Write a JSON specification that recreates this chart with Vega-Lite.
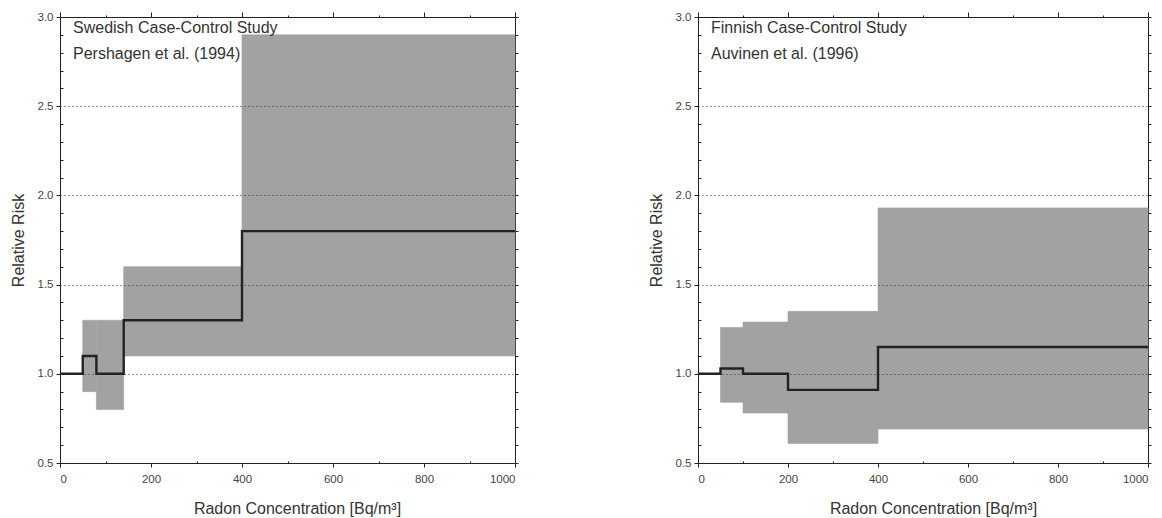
{
  "$schema": "https://vega.github.io/schema/vega-lite/v6.json",
  "background": "white",
  "padding": {"left": 10, "top": 11, "right": 5, "bottom": 2},
  "spacing": 183,
  "bounds": "flush",
  "config": {
    "view": {"stroke": null},
    "font": "Liberation Sans",
    "axis": {
      "labelFont": "Liberation Sans",
      "labelFontSize": 11.5,
      "labelColor": "#444",
      "titleFont": "Liberation Sans",
      "titleFontSize": 16,
      "titleFontWeight": "normal",
      "titleColor": "#333",
      "domainColor": "#222",
      "tickColor": "#222",
      "tickWidth": 1
    }
  },
  "datasets": {
    "bands": [
      {"study": "Swedish", "lo": 50, "hi": 80, "ci_lo": 0.9, "ci_hi": 1.3},
      {"study": "Swedish", "lo": 80, "hi": 140, "ci_lo": 0.8, "ci_hi": 1.3},
      {"study": "Swedish", "lo": 140, "hi": 400, "ci_lo": 1.1, "ci_hi": 1.6},
      {"study": "Swedish", "lo": 400, "hi": 1000, "ci_lo": 1.1, "ci_hi": 2.9},
      {"study": "Finnish", "lo": 50, "hi": 100, "ci_lo": 0.84, "ci_hi": 1.26},
      {"study": "Finnish", "lo": 100, "hi": 200, "ci_lo": 0.78, "ci_hi": 1.29},
      {"study": "Finnish", "lo": 200, "hi": 400, "ci_lo": 0.61, "ci_hi": 1.35},
      {"study": "Finnish", "lo": 400, "hi": 1000, "ci_lo": 0.69, "ci_hi": 1.93}
    ],
    "steps": [
      {"study": "Swedish", "radon": 0, "rr": 1.0},
      {"study": "Swedish", "radon": 50, "rr": 1.1},
      {"study": "Swedish", "radon": 80, "rr": 1.0},
      {"study": "Swedish", "radon": 140, "rr": 1.3},
      {"study": "Swedish", "radon": 400, "rr": 1.8},
      {"study": "Swedish", "radon": 1000, "rr": 1.8},
      {"study": "Finnish", "radon": 0, "rr": 1.0},
      {"study": "Finnish", "radon": 50, "rr": 1.03},
      {"study": "Finnish", "radon": 100, "rr": 1.0},
      {"study": "Finnish", "radon": 200, "rr": 0.91},
      {"study": "Finnish", "radon": 400, "rr": 1.15},
      {"study": "Finnish", "radon": 1000, "rr": 1.15}
    ],
    "notes": [
      {"study": "Swedish", "note": "Swedish Case-Control Study\nPershagen et al. (1994)"},
      {"study": "Finnish", "note": "Finnish Case-Control Study\nAuvinen et al. (1996)"}
    ]
  },
  "hconcat": [
    {
      "width": 455,
      "height": 446,
      "resolve": {"axis": {"x": "independent", "y": "independent"}},
      "layer": [
        {
          "data": {"name": "bands"},
          "transform": [{"filter": "datum.study == 'Swedish'"}],
          "mark": {"type": "rect", "color": "#a2a2a2", "stroke": "#a2a2a2", "strokeWidth": 0.6},
          "encoding": {
            "x": {
              "field": "lo", "type": "quantitative",
              "scale": {"domain": [0, 1000], "nice": false},
              "title": "Radon Concentration [Bq/m³]",
              "axis": {
                "values": [0, 100, 200, 300, 400, 500, 600, 700, 800, 900, 1000],
                "labelExpr": "datum.value % 200 === 0 ? format(datum.value, 'd') : ''",
                "tickSize": {"condition": {"test": "datum.value % 200 === 0", "value": 4}, "value": -2},
                "labelPadding": 6,
                "titlePadding": 16,
                "titleX": 237,
                "grid": false,
                "zindex": 1
              }
            },
            "x2": {"field": "hi"},
            "y": {
              "field": "ci_lo", "type": "quantitative",
              "scale": {"domain": [0.5, 3.0], "nice": false},
              "title": "Relative Risk",
              "axis": {
                "values": [0.5, 0.6, 0.7, 0.8, 0.9, 1.0, 1.1, 1.2, 1.3, 1.4, 1.5, 1.6, 1.7, 1.8, 1.9, 2.0, 2.1, 2.2, 2.3, 2.4, 2.5, 2.6, 2.7, 2.8, 2.9, 3.0],
                "labelExpr": "round(datum.value * 10) % 5 === 0 ? format(datum.value, '.1f') : ''",
                "tickSize": {"condition": {"test": "round(datum.value * 10) % 5 === 0", "value": 4}, "value": -3},
                "labelPadding": 3,
                "titlePadding": 11,
                "grid": true,
                "gridColor": "#333",
                "gridDash": [1, 3],
                "gridOpacity": {"condition": {"test": "datum.value > 0.95 && datum.value < 2.55 && round(datum.value * 10) % 5 === 0", "value": 1}, "value": 0},
                "zindex": 1
              }
            },
            "y2": {"field": "ci_hi"}
          }
        },
        {
          "data": {"name": "steps"},
          "transform": [{"filter": "datum.study == 'Swedish'"}],
          "mark": {"type": "line", "interpolate": "step-after", "color": "#222", "strokeWidth": 2.4},
          "encoding": {
            "x": {
              "field": "radon", "type": "quantitative",
              "scale": {"domain": [0, 1000], "nice": false},
              "axis": {
                "orient": "top", "title": null, "labels": false, "grid": false,
                "values": [0, 100, 200, 300, 400, 500, 600, 700, 800, 900, 1000],
                "tickSize": {"condition": {"test": "datum.value % 200 === 0", "value": 5}, "value": 2}
              }
            },
            "y": {
              "field": "rr", "type": "quantitative",
              "scale": {"domain": [0.5, 3.0], "nice": false},
              "axis": {
                "orient": "right", "title": null, "labels": false, "grid": false,
                "values": [0.5, 0.6, 0.7, 0.8, 0.9, 1.0, 1.1, 1.2, 1.3, 1.4, 1.5, 1.6, 1.7, 1.8, 1.9, 2.0, 2.1, 2.2, 2.3, 2.4, 2.5, 2.6, 2.7, 2.8, 2.9, 3.0],
                "tickSize": 3
              }
            }
          }
        },
        {
          "data": {"name": "notes"},
          "transform": [{"filter": "datum.study == 'Swedish'"}],
          "mark": {"type": "text", "align": "left", "baseline": "middle", "dx": 13, "dy": 11, "fontSize": 16, "lineHeight": 26, "lineBreak": "\n", "color": "#333", "font": "Liberation Sans"},
          "encoding": {
            "x": {"datum": 0, "type": "quantitative", "axis": null},
            "y": {"datum": 3.0, "type": "quantitative", "axis": null},
            "text": {"field": "note"}
          }
        }
      ]
    },
    {
      "width": 450,
      "height": 446,
      "resolve": {"axis": {"x": "independent", "y": "independent"}},
      "layer": [
        {
          "data": {"name": "bands"},
          "transform": [{"filter": "datum.study == 'Finnish'"}],
          "mark": {"type": "rect", "color": "#a2a2a2", "stroke": "#a2a2a2", "strokeWidth": 0.6},
          "encoding": {
            "x": {
              "field": "lo", "type": "quantitative",
              "scale": {"domain": [0, 1000], "nice": false},
              "title": "Radon Concentration [Bq/m³]",
              "axis": {
                "values": [0, 100, 200, 300, 400, 500, 600, 700, 800, 900, 1000],
                "labelExpr": "datum.value % 200 === 0 ? format(datum.value, 'd') : ''",
                "tickSize": {"condition": {"test": "datum.value % 200 === 0", "value": 4}, "value": -2},
                "labelPadding": 6,
                "titlePadding": 16,
                "titleX": 235,
                "grid": false,
                "zindex": 1
              }
            },
            "x2": {"field": "hi"},
            "y": {
              "field": "ci_lo", "type": "quantitative",
              "scale": {"domain": [0.5, 3.0], "nice": false},
              "title": "Relative Risk",
              "axis": {
                "values": [0.5, 0.6, 0.7, 0.8, 0.9, 1.0, 1.1, 1.2, 1.3, 1.4, 1.5, 1.6, 1.7, 1.8, 1.9, 2.0, 2.1, 2.2, 2.3, 2.4, 2.5, 2.6, 2.7, 2.8, 2.9, 3.0],
                "labelExpr": "round(datum.value * 10) % 5 === 0 ? format(datum.value, '.1f') : ''",
                "tickSize": {"condition": {"test": "round(datum.value * 10) % 5 === 0", "value": 4}, "value": -3},
                "labelPadding": 3,
                "titlePadding": 11,
                "grid": true,
                "gridColor": "#333",
                "gridDash": [1, 3],
                "gridOpacity": {"condition": {"test": "datum.value > 0.95 && datum.value < 2.55 && round(datum.value * 10) % 5 === 0", "value": 1}, "value": 0},
                "zindex": 1
              }
            },
            "y2": {"field": "ci_hi"}
          }
        },
        {
          "data": {"name": "steps"},
          "transform": [{"filter": "datum.study == 'Finnish'"}],
          "mark": {"type": "line", "interpolate": "step-after", "color": "#222", "strokeWidth": 2.4},
          "encoding": {
            "x": {
              "field": "radon", "type": "quantitative",
              "scale": {"domain": [0, 1000], "nice": false},
              "axis": {
                "orient": "top", "title": null, "labels": false, "grid": false,
                "values": [0, 100, 200, 300, 400, 500, 600, 700, 800, 900, 1000],
                "tickSize": {"condition": {"test": "datum.value % 200 === 0", "value": 5}, "value": 2}
              }
            },
            "y": {
              "field": "rr", "type": "quantitative",
              "scale": {"domain": [0.5, 3.0], "nice": false},
              "axis": {
                "orient": "right", "title": null, "labels": false, "grid": false,
                "values": [0.5, 0.6, 0.7, 0.8, 0.9, 1.0, 1.1, 1.2, 1.3, 1.4, 1.5, 1.6, 1.7, 1.8, 1.9, 2.0, 2.1, 2.2, 2.3, 2.4, 2.5, 2.6, 2.7, 2.8, 2.9, 3.0],
                "tickSize": 3
              }
            }
          }
        },
        {
          "data": {"name": "notes"},
          "transform": [{"filter": "datum.study == 'Finnish'"}],
          "mark": {"type": "text", "align": "left", "baseline": "middle", "dx": 13, "dy": 11, "fontSize": 16, "lineHeight": 26, "lineBreak": "\n", "color": "#333", "font": "Liberation Sans"},
          "encoding": {
            "x": {"datum": 0, "type": "quantitative", "axis": null},
            "y": {"datum": 3.0, "type": "quantitative", "axis": null},
            "text": {"field": "note"}
          }
        }
      ]
    }
  ]
}
